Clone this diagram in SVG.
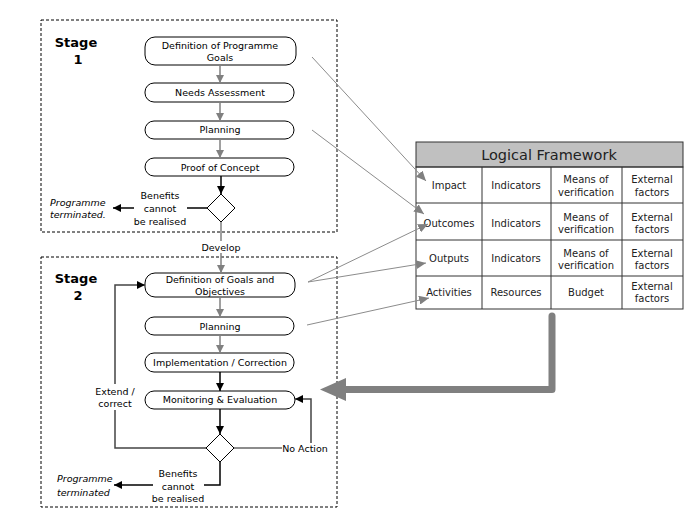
<svg xmlns="http://www.w3.org/2000/svg" width="685" height="527" viewBox="0 0 685 527">
<style>
.stage{fill:none;stroke:#000;stroke-width:1;stroke-dasharray:3,2}
.node rect{fill:#fff;stroke:#000;stroke-width:1}
.node text,.lbl{font-family:"DejaVu Sans",Verdana,sans-serif;font-size:9.5px;fill:#000;text-anchor:middle}
.it{font-style:italic;text-anchor:start}
.st{font-family:"DejaVu Sans",Verdana,sans-serif;font-size:13px;font-weight:bold;fill:#000;text-anchor:middle}
.g{stroke:#808080;stroke-width:1.5;fill:none}
.b{stroke:#000;stroke-width:1.5;fill:none}
.thin{stroke:#8c8c8c;stroke-width:1;fill:none}
.cell{font-family:"DejaVu Sans",Verdana,sans-serif;font-size:10px;fill:#222;text-anchor:middle}
.grid{stroke:#333;stroke-width:1;fill:none}
</style>
<defs>
<marker id="ag" markerUnits="userSpaceOnUse" markerWidth="8" markerHeight="8" refX="8" refY="4" orient="auto"><path d="M0,0 L8,4 L0,8 z" fill="#808080"/></marker>
<marker id="ab" markerUnits="userSpaceOnUse" markerWidth="8" markerHeight="8" refX="8" refY="4" orient="auto"><path d="M0,0 L8,4 L0,8 z" fill="#000"/></marker>
<marker id="at" markerUnits="userSpaceOnUse" markerWidth="11" markerHeight="9" refX="10" refY="4.5" orient="auto"><path d="M0,0 L10,4.5 L0,9 z" fill="#808080"/></marker>
</defs>
<rect width="685" height="527" fill="#fff"/>

<g id="stage1">
<rect class="stage" x="41" y="20" width="296" height="212"/>
<text class="st" x="76" y="47">Stage</text>
<text class="st" x="78" y="64">1</text>
</g>
<g id="stage2">
<rect class="stage" x="41" y="257" width="296" height="250"/>
<text class="st" x="76" y="283">Stage</text>
<text class="st" x="78" y="300">2</text>
</g>

<g id="n_defprog" class="node"><rect x="145" y="37" width="151" height="28" rx="10"/><text x="220" y="48.5">Definition of Programme</text><text x="220" y="60.5">Goals</text></g>
<g id="n_needs" class="node"><rect x="145" y="83" width="149" height="19" rx="9"/><text x="220" y="95.5">Needs Assessment</text></g>
<g id="n_plan1" class="node"><rect x="145" y="121" width="149" height="18" rx="9"/><text x="220" y="132.5">Planning</text></g>
<g id="n_proof" class="node"><rect x="145" y="158" width="149" height="18" rx="9"/><text x="220" y="170.5">Proof of Concept</text></g>
<g id="d1" class="node"><path d="M221,194 L235,208 L221,222 L207,208 z" fill="#fff" stroke="#000"/></g>

<g id="n_defgoals" class="node"><rect x="145" y="273" width="150" height="24" rx="10"/><text x="220" y="282.5">Definition of Goals and</text><text x="220" y="294.5">Objectives</text></g>
<g id="n_plan2" class="node"><rect x="145" y="317" width="149" height="18" rx="9"/><text x="220" y="329.5">Planning</text></g>
<g id="n_impl" class="node"><rect x="145" y="353" width="149" height="19" rx="9"/><text x="220" y="365.5">Implementation / Correction</text></g>
<g id="n_mon" class="node"><rect x="145" y="391" width="150" height="18" rx="9"/><text x="220" y="402.5">Monitoring &amp; Evaluation</text></g>
<g id="d2" class="node"><path d="M220,434 L234,448 L220,462 L206,448 z" fill="#fff" stroke="#000"/></g>

<g id="t1" class="lbl">
<text class="lbl" x="160" y="198.5">Benefits</text>
<text class="lbl" x="160" y="211.5">cannot</text>
<text class="lbl" x="160" y="224.5">be realised</text>
<text class="lbl it" x="50" y="205.5">Programme</text>
<text class="lbl it" x="50" y="217.5">terminated.</text>
<text class="lbl" x="221" y="250.5">Develop</text>
<text class="lbl" x="115" y="394.5">Extend /</text>
<text class="lbl" x="115" y="406.5">correct</text>
<text class="lbl" x="305" y="451.5">No Action</text>
<text class="lbl" x="178" y="476.5">Benefits</text>
<text class="lbl" x="178" y="489.5">cannot</text>
<text class="lbl" x="178" y="501.5">be realised</text>
<text class="lbl it" x="57" y="481.5">Programme</text>
<text class="lbl it" x="57" y="495.5">terminated</text>
</g>

<g id="logframe">
<rect x="416" y="142" width="267" height="25" fill="#c0c0c0" stroke="#333"/>
<text x="549" y="160" font-family="DejaVu Sans,Verdana,sans-serif" font-size="14.5" fill="#222" text-anchor="middle">Logical Framework</text>
<rect class="grid" x="416" y="167" width="267" height="142" fill="#fff"/>
<path class="grid" d="M416,203H683M416,240H683M416,276H683M482,167V309M551,167V309M622,167V309"/>
<text class="cell" x="449" y="189">Impact</text>
<text class="cell" x="516" y="189">Indicators</text>
<text class="cell" x="586" y="182.5">Means of</text>
<text class="cell" x="586" y="195.5">verification</text>
<text class="cell" x="652" y="182.5">External</text>
<text class="cell" x="652" y="195.5">factors</text>
<text class="cell" x="449" y="226.5">Outcomes</text>
<text class="cell" x="516" y="226.5">Indicators</text>
<text class="cell" x="586" y="220.5">Means of</text>
<text class="cell" x="586" y="232.5">verification</text>
<text class="cell" x="652" y="220.5">External</text>
<text class="cell" x="652" y="232.5">factors</text>
<text class="cell" x="449" y="261.5">Outputs</text>
<text class="cell" x="516" y="261.5">Indicators</text>
<text class="cell" x="586" y="256.5">Means of</text>
<text class="cell" x="586" y="268.5">verification</text>
<text class="cell" x="652" y="256.5">External</text>
<text class="cell" x="652" y="268.5">factors</text>
<text class="cell" x="449" y="295.5">Activities</text>
<text class="cell" x="516" y="295.5">Resources</text>
<text class="cell" x="586" y="295.5">Budget</text>
<text class="cell" x="652" y="289.5">External</text>
<text class="cell" x="652" y="301.5">factors</text>
</g>

<g id="connectors">
<line class="g" x1="220" y1="65" x2="220" y2="83" marker-end="url(#ag)"/>
<line class="g" x1="220" y1="102" x2="220" y2="121" marker-end="url(#ag)"/>
<line class="g" x1="220" y1="139" x2="220" y2="158" marker-end="url(#ag)"/>
<line class="b" x1="221" y1="176" x2="221" y2="194" marker-end="url(#ab)"/>
<line class="b" x1="207" y1="208" x2="187" y2="208"/>
<line class="b" x1="134" y1="208" x2="113" y2="208" marker-end="url(#ab)"/>
<line class="g" x1="221" y1="222" x2="221" y2="241"/>
<line class="g" x1="221" y1="253" x2="221" y2="273" marker-end="url(#ag)"/>
<line class="g" x1="220" y1="297" x2="220" y2="317" marker-end="url(#ag)"/>
<line class="g" x1="220" y1="335" x2="220" y2="353" marker-end="url(#ag)"/>
<line class="b" x1="220" y1="372" x2="220" y2="391" marker-end="url(#ab)"/>
<line class="b" x1="220" y1="409" x2="220" y2="434" marker-end="url(#ab)"/>
<path d="M206,448 H115 V410" stroke="#444" stroke-width="1.5" fill="none"/>
<path d="M115,384 V285 H145" stroke="#444" stroke-width="1.5" fill="none" marker-end="url(#ab)"/>
<line x1="234" y1="448" x2="282" y2="448" stroke="#666" stroke-width="1.5"/>
<path d="M311,443 V399 H295" stroke="#444" stroke-width="1.5" fill="none" marker-end="url(#ab)"/>
<path d="M220,462 V485 H204" class="b"/>
<line class="b" x1="153" y1="485" x2="114" y2="485" marker-end="url(#ab)"/>
<line class="thin" x1="312" y1="57" x2="426" y2="181" marker-end="url(#at)"/>
<line class="thin" x1="312" y1="130" x2="424" y2="214" marker-end="url(#at)"/>
<line class="thin" x1="308" y1="282" x2="428" y2="224" marker-end="url(#at)"/>
<line class="thin" x1="308" y1="282" x2="426" y2="263" marker-end="url(#at)"/>
<line class="thin" x1="307" y1="325" x2="429" y2="298" marker-end="url(#at)"/>
<path d="M552,316 V389.5 H343" stroke="#808080" stroke-width="7" fill="none" stroke-linejoin="round" stroke-linecap="round"/>
<path d="M320,389.5 L346,378 L346,401 z" fill="#808080"/>
</g>
</svg>
